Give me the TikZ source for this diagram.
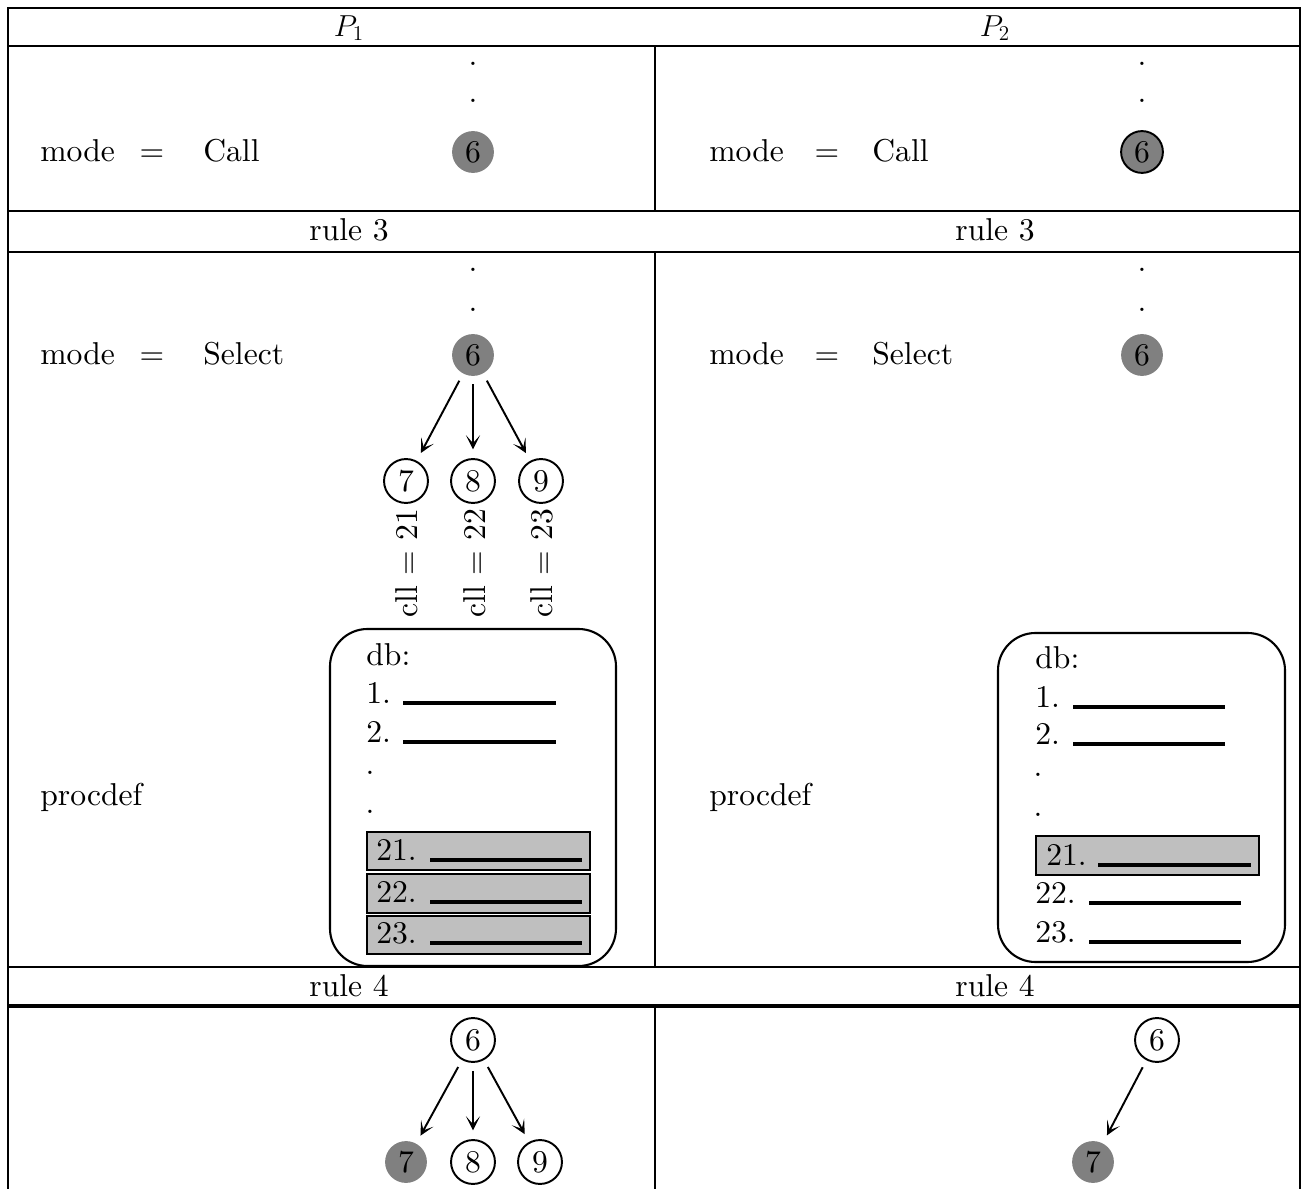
\documentclass[tikz,border=0pt]{standalone}
\usepackage{fontspec}
\setmainfont{lmroman10-regular}[Extension=.otf]
\usetikzlibrary{arrows.meta}
\begin{document}
\begin{tikzpicture}[x=0.02cm,y=-0.02cm,
  font=\fontsize{18}{22}\selectfont,
  tline/.style={line width=1.4pt},
  gn/.style={circle,fill=gray,inner sep=0pt,minimum size=23.8pt},
  gno/.style={gn,draw=black,line width=1.1pt},
  wn/.style={circle,draw=black,line width=1.1pt,inner sep=0pt,minimum size=25pt},
  lbl/.style={anchor=base west,inner sep=0pt},
  dotn/.style={inner sep=0pt},
  arr/.style={line width=1.1pt,-{Stealth[length=8pt,width=8pt,inset=4.5pt]},shorten <=4.5pt,shorten >=5pt},
  uline/.style={line width=1.8pt},
  gbox/.style={fill=gray!50,draw=black,line width=1pt},
  dbbox/.style={draw=black,line width=1.2pt,rounded corners=0.75cm},
  vlab/.style={rotate=90,inner sep=0pt}]
\useasboundingbox (0,0) rectangle (1302,1189);
\fill[white] (0,0) rectangle (1302,1189);
% table
\draw[tline] (8,1189) -- (8,8) -- (1300,8) -- (1300,1189);
\draw[tline] (8,46) -- (1300,46) (8,211) -- (1300,211) (8,252) -- (1300,252) (8,967) -- (1300,967);
\draw[line width=2.3pt] (8,1006) -- (1300,1006);
\draw[tline] (655,46) -- (655,211) (655,252) -- (655,967) (655,1006) -- (655,1189);
% headers
\node (h1) at (349,28) {$P_1$};
\node (h2) at (995,28) {$P_2$};
\node (r3a) at (349,230) {rule 3};
\node (r3b) at (995,230) {rule 3};
\node (r4a) at (349,986) {rule 4};
\node (r4b) at (995,986) {rule 4};
% row 1, P1
\node[dotn] (d1a) at (473,64) {.};
\node[dotn] (d1b) at (473,101) {.};
\node[gn] (a6) at (473,152) {6};
\node[lbl] (am) at (40,162) {mode};
\node[anchor=base,inner sep=0pt] (ae) at (152,162) {=};
\node[lbl] (ac) at (203,162) {Call};
% row 1, P2
\node[dotn] (d2a) at (1142,64) {.};
\node[dotn] (d2b) at (1142,101) {.};
\node[gno] (b6) at (1142,152) {6};
\node[lbl] (bm) at (709,162) {mode};
\node[anchor=base,inner sep=0pt] (be) at (827,162) {=};
\node[lbl] (bc) at (872,162) {Call};
% row 3, P1
\node[dotn] (d3a) at (473,270) {.};
\node[dotn] (d3b) at (473,310) {.};
\node[gn] (c6) at (473,355) {6};
\node[lbl] (cm) at (40,365) {mode};
\node[anchor=base,inner sep=0pt] (ce) at (152,365) {=};
\node[lbl] (cs) at (203,365) {Select};
\node[wn] (c7) at (406,481) {7};
\node[wn] (c8) at (473,481) {8};
\node[wn] (c9) at (541,481) {9};
\draw[arr] (c6) -- (c7);
\draw[arr] (c6) -- (c8);
\draw[arr] (c6) -- (c9);
\node[vlab] (l21) at (407,563) {cll = 21};
\node[vlab] (l22) at (475,563) {cll = 22};
\node[vlab] (l23) at (542,563) {cll = 23};
\node[lbl] (cp) at (40,805) {procdef};
\draw[dbbox] (330,629) rectangle (616,966);
\node[lbl] (cdb) at (366,665) {db:};
\node[lbl] (c1) at (366,703) {1.};
\draw[uline] (403,703) -- (556,703);
\node[lbl] (c2) at (366,742) {2.};
\draw[uline] (403,742) -- (556,742);
\node[dotn] (cd1) at (370,773) {.};
\node[dotn] (cd2) at (370,812) {.};
\draw[gbox] (367,832) rectangle (590,870);
\draw[gbox] (367,874) rectangle (590,913);
\draw[gbox] (367,916) rectangle (590,954);
\node[lbl] (c21) at (376,860) {21.};
\draw[uline] (430,860) -- (582,860);
\node[lbl] (c22) at (376,902) {22.};
\draw[uline] (430,902) -- (582,902);
\node[lbl] (c23) at (376,943) {23.};
\draw[uline] (430,943) -- (582,943);
% row 3, P2
\node[dotn] (d4a) at (1142,270) {.};
\node[dotn] (d4b) at (1142,310) {.};
\node[gn] (e6) at (1142,355) {6};
\node[lbl] (em) at (709,365) {mode};
\node[anchor=base,inner sep=0pt] (ee) at (827,365) {=};
\node[lbl] (es) at (872,365) {Select};
\node[lbl] (ep) at (709,805) {procdef};
\draw[dbbox] (998,633) rectangle (1285,962);
\node[lbl] (edb) at (1035,668) {db:};
\node[lbl] (e1) at (1035,707) {1.};
\draw[uline] (1073,707) -- (1225,707);
\node[lbl] (e2) at (1035,744) {2.};
\draw[uline] (1073,744) -- (1225,744);
\node[dotn] (ed1) at (1038,775) {.};
\node[dotn] (ed2) at (1038,815) {.};
\draw[gbox] (1036,836) rectangle (1259,875);
\node[lbl] (e21) at (1046,865) {21.};
\draw[uline] (1098,865) -- (1251,865);
\node[lbl] (e22) at (1035,903) {22.};
\draw[uline] (1089,903) -- (1241,903);
\node[lbl] (e23) at (1035,942) {23.};
\draw[uline] (1089,942) -- (1241,942);
% row 5, P1
\node[wn] (f6) at (473,1040) {6};
\node[gn] (f7) at (406,1162) {7};
\node[wn] (f8) at (473,1162) {8};
\node[wn] (f9) at (540,1162) {9};
\draw[arr] (f6) -- (f7);
\draw[arr] (f6) -- (f8);
\draw[arr] (f6) -- (f9);
% row 5, P2
\node[wn] (g6) at (1157,1040) {6};
\node[gn] (g7) at (1093,1162) {7};
\draw[arr] (g6) -- (g7);
\end{tikzpicture}
\end{document}
